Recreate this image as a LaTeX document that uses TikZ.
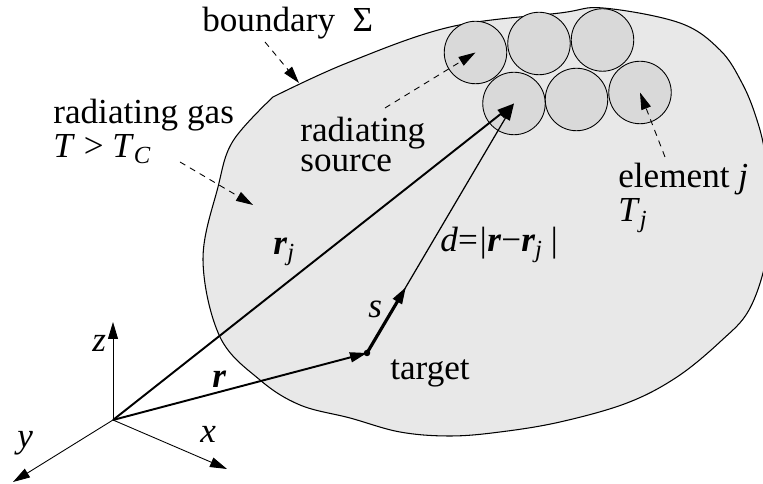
\documentclass[tikz,border=0pt]{standalone}
\usepackage{fontspec}
\setmainfont{Liberation Serif}
\usepackage{tikz}
\usetikzlibrary{arrows.meta,positioning,calc}
\definecolor{gasgray}{gray}{0.91}
\definecolor{cellgray}{gray}{0.85}
\newcommand{\bfr}{\textbf{\textit{r}}}

\begin{document}
\begin{tikzpicture}[scale=1, every node/.style={font=\fontsize{20}{19.8}\selectfont, inner sep=0pt},
  tip/.style={-{Triangle[length=0.34cm,width=0.2cm]}},
  pointer/.style={tip, dash pattern=on 3.5pt off 3pt, line width=0.5pt},
  lbl/.style={anchor=base west, align=left}]
\useasboundingbox (0,0) rectangle (15.26,9.68);

\draw[fill=gasgray, line width=0.6pt] plot[smooth, tension=0.6] coordinates {
  (5.46,7.74) (6.94,8.42) (9.0,9.14) (11.2,9.42) (12.06,9.52) (13.6,9.22) (14.4,8.68)
  (14.84,8.02) (15.12,7.34) (15.3,6.6) (15.38,5.5) (15.32,4.48) (14.98,3.48) (14.42,2.86)
  (13.54,2.14) (12.54,1.62) (11.2,1.24) (10.0,1.04) (9.0,0.96) (8.0,1.04) (7.0,1.32)
  (6.0,1.58) (5.2,2.08) (4.4,2.94) (4.06,4.48) (4.36,5.94) (4.66,6.86) (5.46,7.74)} -- cycle;

\foreach \name/\x/\y in {c1/9.51/8.63,c2/10.78/8.81,c3/12.05/8.88,c4/10.28/7.61,c5/11.53/7.69,c6/12.8/7.83} {
  \node[circle,draw,fill=cellgray,minimum size=1.25cm,line width=0.5pt] (\name) at (\x,\y) {};
}

\coordinate (O) at (2.26,1.28);
\coordinate (xend) at (4.54,0.30);
\coordinate (yend) at (0.26,0.04);
\coordinate (zend) at (2.26,3.24);
\draw[tip, line width=0.5pt] (O) -- (xend);
\draw[tip, line width=0.5pt] (O) -- (yend);
\draw[tip, line width=0.5pt] (O) -- (zend);

\node[circle,fill,minimum size=0.13cm] (target) at (7.34,2.62) {};
\coordinate (send) at (8.12,3.94);
\draw[tip, line width=1.1pt] (O) -- (target.center);
\draw[tip, line width=1.1pt] (O) -- (c4.center);
\draw[tip, line width=0.7pt] (target.center) -- (c4.center);
\draw[tip, line width=1.8pt] (target.center) -- (send);

\node[lbl] (bndlbl) at (4.04,9.04) {boundary~~Σ};
\node[lbl] (gaslbl) at (1.06,6.52) {radiating gas\\\textit{T} > \textit{T}\textsubscript{\textit{C}}};
\node[lbl, font=\fontsize{20}{17.5}\selectfont] (srclbl) at (6.0,6.24) {radiating\\source};
\node[lbl] (elemlbl) at (12.36,5.24) {element \textit{j}\\\textit{T}\textsubscript{\textit{j}}};
\node[lbl] (tgtlbl) at (7.8,2.08) {target};
\node[lbl] (dlbl) at (8.8,4.64) {\textit{d}=\textit{|}\bfr−\bfr\textsubscript{\textit{j}}\,\textit{|}};
\node[lbl] (slbl) at (7.36,3.32) {\textit{s}};
\node[lbl] (rjlbl) at (5.46,4.58) {\bfr\textsubscript{\textit{j}}};
\node[lbl] (rlbl) at (4.24,1.92) {\bfr};
\node[lbl] (xlbl) at (4.0,0.82) {\textit{x}};
\node[lbl] (ylbl) at (0.34,0.72) {\textit{y}};
\node[lbl] (zlbl) at (1.84,2.64) {\textit{z}};

\coordinate (bndfrom) at (5.30,8.84);
\coordinate (bndto) at (5.98,8.02);
\coordinate (gasfrom) at (3.6,6.44);
\coordinate (gasto) at (5.06,5.58);
\coordinate (srcfrom) at (7.7,7.52);
\coordinate (elemfrom) at (13.3,6.54);
\draw[pointer] (bndfrom) -- (bndto);
\draw[pointer] (gasfrom) -- (gasto);
\draw[pointer] (srcfrom) -- (c1.center);
\draw[pointer] (elemfrom) -- (c6.center);
\end{tikzpicture}
\end{document}
